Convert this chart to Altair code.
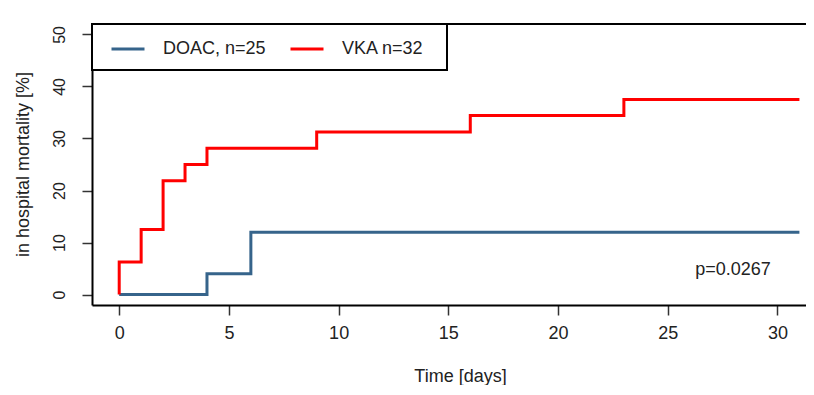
import altair as alt
import pandas as pd

# ---- data ----
series = ["DOAC, n=25", "VKA n=32"]
colors = ["#36648b", "#ff0000"]
doac_days = [0, 4, 6, 31]
doac_mort = [0, 4, 12, 12]
vka_days = [0, 0, 1, 2, 3, 4, 9, 16, 23, 31]
vka_mort = [0, 6.25, 12.5, 21.9, 25, 28.1, 31.25, 34.4, 37.5, 37.5]
x_ticks = [0, 5, 10, 15, 20, 25, 30]
y_ticks = [0, 10, 20, 30, 40, 50]
p_label = "p=0.0267"

rows = []
for i, (d, m) in enumerate(zip(doac_days, doac_mort)):
    rows.append({"group": series[0], "day": d, "mort": m, "idx": i})
for i, (d, m) in enumerate(zip(vka_days, vka_mort)):
    rows.append({"group": series[1], "day": d, "mort": m, "idx": i})
df = pd.DataFrame(rows)
one = pd.DataFrame({"k": [0]})

FONT = "Liberation Sans"
TXT = "#222222"
W, H = 714, 281

x_scale = alt.Scale(domain=[-1.24, 31.30], nice=False, zero=False)
y_scale = alt.Scale(domain=[-2, 52], nice=False, zero=False)

x_axis = alt.Axis(
    values=x_ticks, grid=False, domainColor="black", domainWidth=2,
    tickColor="#333333", tickWidth=1.5, tickSize=10,
    labelFont=FONT, labelFontSize=18, labelColor=TXT, labelPadding=9,
    title="Time [days]", titleFont=FONT, titleFontSize=18, titleFontWeight="normal",
    titleColor=TXT, titleX=368, titleY=71, titleBaseline="middle", titleAlign="center",
)
y_axis = alt.Axis(
    values=y_ticks, grid=False, domainColor="black", domainWidth=2,
    tickColor="#333333", tickWidth=1.5, tickSize=10,
    labelFont=FONT, labelFontSize=16, labelColor=TXT, labelPadding=15,
    labelAngle=270, labelAlign="center", labelBaseline="bottom",
    title="in hospital mortality [%]", titleFont=FONT, titleFontSize=18,
    titleFontWeight="normal", titleColor=TXT, titleAngle=270,
    titleX=-69, titleY=140, titleBaseline="middle", titleAlign="center",
)

legend = alt.Legend(
    title=None, orient="none", legendX=18, legendY=7, direction="horizontal",
    symbolType="stroke", symbolSize=1089, symbolStrokeWidth=3,
    labelFont=FONT, labelFontSize=18, labelColor=TXT, labelOffset=17,
    columnPadding=18, padding=0,
)

legend_box = alt.Chart(one).mark_rect(fill="white", stroke="black", strokeWidth=2).encode(
    x=alt.value(0), x2=alt.value(355), y=alt.value(0), y2=alt.value(46)
)
top_border = alt.Chart(one).mark_rule(color="black", strokeWidth=2).encode(
    x=alt.value(0), x2=alt.value(W), y=alt.value(0)
)

lines = alt.Chart(df).mark_line(interpolate="step-after", strokeWidth=3).encode(
    x=alt.X("day:Q", scale=x_scale, axis=x_axis),
    y=alt.Y("mort:Q", scale=y_scale, axis=y_axis),
    color=alt.Color("group:N", scale=alt.Scale(domain=series, range=colors), legend=legend),
    order=alt.Order("idx:Q"),
)

ptext = alt.Chart(one).mark_text(
    text=p_label, font=FONT, fontSize=18, color=TXT, align="center", baseline="middle"
).encode(x=alt.value(641), y=alt.value(246))

chart = alt.layer(top_border, lines, legend_box, ptext).properties(
    width=W, height=H,
    padding={"left": 84, "top": 16, "right": 0, "bottom": 80},
    autosize=alt.AutoSizeParams(type="none"),
).configure_view(stroke=None)

chart.save("out.html", embed_options={"renderer": "svg", "actions": False})
